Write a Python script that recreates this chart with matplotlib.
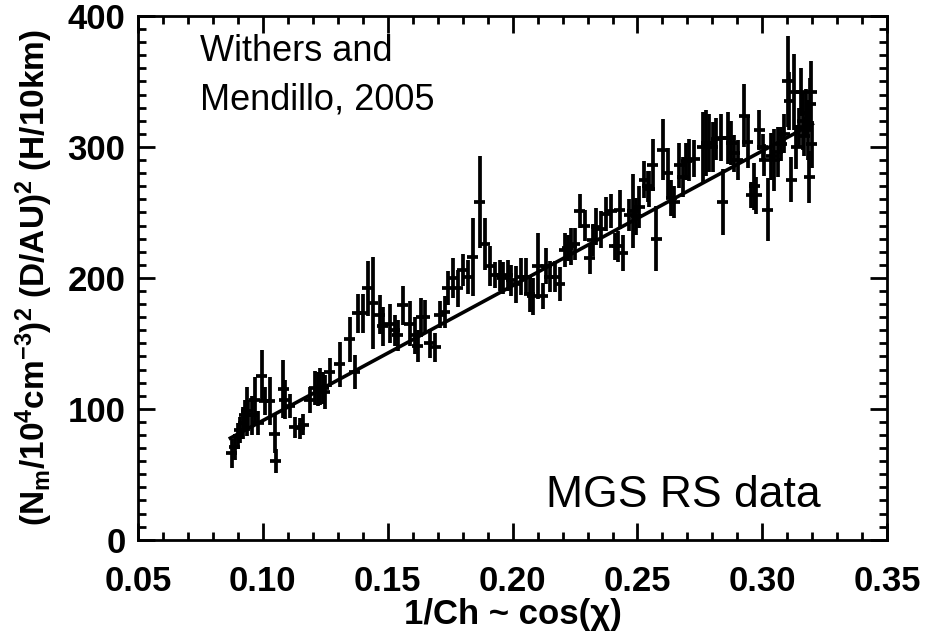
import numpy as np
import matplotlib
matplotlib.use('Agg')
import matplotlib.pyplot as plt
from matplotlib.ticker import MultipleLocator

plt.rcParams['font.family'] = ['Liberation Sans', 'DejaVu Sans']
plt.rcParams['mathtext.default'] = 'regular'

# data: x, y, vertical error
cos_chi = [0.0875, 0.0888, 0.0901, 0.0908, 0.0921, 0.0928, 0.0935, 0.0941, 0.0955, 0.0968,
           0.0981, 0.0995, 0.1008, 0.1028, 0.1048, 0.1052, 0.1081, 0.1088, 0.1108, 0.1128,
           0.1148, 0.1161, 0.1188, 0.1208, 0.1221, 0.1228, 0.1241, 0.1248, 0.1268, 0.1308,
           0.1348, 0.1368, 0.1381, 0.1401, 0.1421, 0.1441, 0.1468, 0.1481, 0.1508, 0.1528,
           0.1541, 0.1561, 0.1588, 0.1608, 0.1621, 0.1635, 0.1648, 0.1668, 0.1690, 0.1708,
           0.1728, 0.1741, 0.1761, 0.1781, 0.1801, 0.1821, 0.1841, 0.1868, 0.1888, 0.1908,
           0.1928, 0.1948, 0.1961, 0.1981, 0.1995, 0.2015, 0.2035, 0.2055, 0.2068, 0.2081,
           0.2101, 0.2121, 0.2135, 0.2148, 0.2168, 0.2188, 0.2208, 0.2221, 0.2235, 0.2248,
           0.2268, 0.2288, 0.2308, 0.2321, 0.2335, 0.2355, 0.2375, 0.2395, 0.2408, 0.2421,
           0.2428, 0.2441, 0.2468, 0.2481, 0.2495, 0.2508, 0.2528, 0.2541, 0.2548, 0.2561,
           0.2575, 0.2601, 0.2621, 0.2635, 0.2648, 0.2668, 0.2681, 0.2695, 0.2708, 0.2728,
           0.2761, 0.2775, 0.2788, 0.2801, 0.2815, 0.2835, 0.2841, 0.2861, 0.2875, 0.2888,
           0.2901, 0.2928, 0.2941, 0.2955, 0.2968, 0.2975, 0.2988, 0.3001, 0.3008, 0.3021,
           0.3035, 0.3048, 0.3061, 0.3075, 0.3088, 0.3101, 0.3108, 0.3115, 0.3128, 0.3135,
           0.3148, 0.3155, 0.3161, 0.3168, 0.3175, 0.3181, 0.3188, 0.3192, 0.3195, 0.3198]
nm_scaled = [66, 71, 79, 84, 89, 95, 98, 95, 95, 107,
             89, 125, 106, 106, 81, 60, 115, 107, 102, 86,
             85, 88, 107, 116, 115, 117, 116, 113, 128, 134,
             153, 128, 173, 173, 192, 181, 172, 163, 165, 160,
             156, 179, 165, 156, 148, 170, 170, 150, 147, 172,
             174, 192, 200, 192, 206, 201, 216, 258, 226, 209,
             202, 202, 200, 202, 198, 195, 201, 201, 188, 186,
             209, 186, 209, 201, 201, 195, 221, 223, 224, 226,
             251, 240, 215, 229, 239, 237, 249, 251, 224, 224,
             252, 219, 248, 251, 247, 254, 275, 270, 268, 286,
             230, 298, 280, 261, 258, 286, 277, 289, 290, 291,
             300, 303, 303, 300, 306, 307, 258, 307, 303, 295,
             290, 324, 304, 263, 270, 263, 313, 300, 290, 252,
             293, 290, 296, 302, 310, 350, 335, 275, 342, 300,
             315, 342, 320, 308, 326, 313, 277, 333, 342, 302]
nm_err = [11, 10, 10, 10, 12, 12, 19, 12, 15, 17,
          9, 20, 11, 18, 15, 9, 22, 15, 9, 8,
          8, 8, 10, 13, 13, 14, 12, 13, 11, 17,
          17, 13, 15, 15, 21, 35, 15, 15, 15, 12,
          12, 15, 17, 14, 12, 15, 13, 11, 11, 10,
          12, 13, 15, 14, 12, 13, 30, 35, 20, 15,
          10, 12, 12, 12, 12, 14, 14, 14, 14, 14,
          25, 10, 14, 12, 12, 13, 13, 10, 14, 12,
          13, 12, 12, 12, 14, 14, 13, 13, 10, 12,
          15, 14, 12, 28, 14, 16, 14, 12, 14, 20,
          25, 23, 19, 14, 12, 17, 15, 14, 16, 14,
          27, 25, 22, 19, 16, 18, 25, 20, 17, 14,
          15, 24, 20, 10, 18, 14, 15, 10, 12, 24,
          18, 24, 19, 13, 15, 35, 22, 17, 29, 17,
          15, 18, 22, 15, 18, 23, 20, 20, 24, 18]
x_halfwidth = 0.0022

# linear fit shown on the plot
fit_coef = [1030.0, -12.0]
fit_x = np.array([0.087, 0.320])
fit_y = np.polyval(fit_coef, fit_x)

fig = plt.figure(figsize=(9.32, 6.41), dpi=100)
ax = fig.add_axes([0.148, 0.158, 0.804, 0.817])

ax.errorbar(cos_chi, nm_scaled, yerr=nm_err, xerr=x_halfwidth, fmt='none',
            ecolor='black', elinewidth=2.7, capsize=0)
ax.plot(fit_x, fit_y, color='black', lw=2.6)

ax.set_xlim(0.05, 0.35)
ax.set_ylim(0, 400)
ax.xaxis.set_major_locator(MultipleLocator(0.05))
ax.xaxis.set_minor_locator(MultipleLocator(0.01))
ax.yaxis.set_major_locator(MultipleLocator(100))
ax.yaxis.set_minor_locator(MultipleLocator(10))
ax.xaxis.set_major_formatter(plt.FormatStrFormatter('%.2f'))
ax.tick_params(which='both', direction='in', top=True, right=True, width=2, color='black')
ax.tick_params(which='major', length=12, labelsize=25)
ax.tick_params(axis='x', which='major', pad=18)
ax.tick_params(axis='y', which='major', pad=9)
ax.tick_params(which='minor', length=6)
for lab in ax.get_xticklabels() + ax.get_yticklabels():
    lab.set_fontweight('bold')
for s in ax.spines.values():
    s.set_linewidth(2)

ax.set_xlabel('1/Ch ~ cos(χ)', fontsize=25, fontweight='bold', labelpad=0)
ax.set_ylabel('(N$_m$/10$^4$cm$^{-3}$)$^2$ (D/AU)$^2$ (H/10km)', fontsize=24,
              fontweight='bold', labelpad=9)

ax.text(0.083, 0.965, 'Withers and\nMendillo, 2005', transform=ax.transAxes,
        fontsize=26, va='top', ha='left', linespacing=1.5)
ax.text(0.545, 0.045, 'MGS RS data', transform=ax.transAxes,
        fontsize=32, va='bottom', ha='left')

fig.savefig('out.png', dpi=100)
